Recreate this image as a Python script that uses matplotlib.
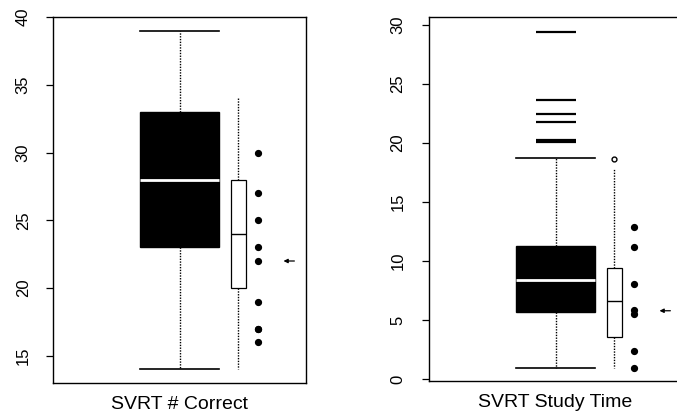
import matplotlib
matplotlib.use("Agg")
import matplotlib.pyplot as plt

plt.rcParams['font.family'] = ['Liberation Sans', 'DejaVu Sans']

# ---- data ----
titles = ["SVRT # Correct", "SVRT Study Time"]

# left panel: population box (black) and sample box (white)
correct_big = dict(q1=23, med=28, q3=33, whislo=14, whishi=39, fliers=[])
correct_small = dict(q1=20, med=24, q3=28, whislo=14, whishi=34, fliers=[])
correct_points = [30, 27, 25, 23, 22, 19, 17, 17, 16]
correct_arrow = 22
correct_yticks = [15, 20, 25, 30, 35, 40]
correct_ylim = (13, 40)

# right panel
time_big = dict(q1=5.7, med=8.4, q3=11.3, whislo=1.0, whishi=18.7,
                fliers=[29.4, 23.6, 22.4, 21.8, 20.2, 20.1])
time_small = dict(q1=3.6, med=6.6, q3=9.4, whislo=1.0, whishi=17.8,
                  fliers=[18.6])
time_points = [12.9, 11.2, 8.1, 5.9, 5.5, 2.4, 1.0]
time_arrow = 5.8
time_yticks = [0, 5, 10, 15, 20, 25, 30]
time_ylim = (-0.14, 30.64)

W, H = 677, 419
fig = plt.figure(figsize=(W / 100, H / 100), dpi=100)

def px_axes(x0, y0, x1, y1):
    return fig.add_axes([x0 / W, 1 - y1 / H, (x1 - x0) / W, (y1 - y0) / H])

ax1 = px_axes(53, 17, 306, 383)
ax2 = px_axes(429, 17, 682, 381)

panels = [
    (ax1, correct_big, correct_small, correct_points, correct_arrow,
     correct_yticks, correct_ylim, titles[0], 11),
    (ax2, time_big, time_small, time_points, time_arrow,
     time_yticks, time_ylim, titles[1], 12),
]

for ax, big, small, pts, arr, yt, yl, title, pad in panels:
    ax.set_xlim(0, 1)
    ax.set_ylim(*yl)
    # big black box
    ax.bxp([big], positions=[0.5], widths=[0.31], patch_artist=True,
           showcaps=True, capwidths=[0.31], showfliers=True,
           boxprops=dict(facecolor='black', edgecolor='black', linewidth=1),
           medianprops=dict(color='white', linewidth=2),
           whiskerprops=dict(color='black', linestyle=(0, (1, 1)), linewidth=1),
           capprops=dict(color='black', linewidth=1.2),
           flierprops=dict(marker='_', markersize=29, markeredgewidth=1.6,
                           markeredgecolor='black'))
    # small white box
    ax.bxp([small], positions=[0.733], widths=[0.06], patch_artist=True,
           showcaps=False, showfliers=True,
           boxprops=dict(facecolor='white', edgecolor='black', linewidth=0.9),
           medianprops=dict(color='black', linewidth=1),
           whiskerprops=dict(color='black', linestyle=(0, (1, 1)), linewidth=1),
           flierprops=dict(marker='o', markersize=3.5, markerfacecolor='white',
                           markeredgecolor='black', markeredgewidth=1))
    # individual points
    ax.plot([0.81] * len(pts), pts, 'o', color='black', markersize=4.2)
    # arrow
    ax.annotate('', xy=(0.9, arr), xytext=(0.965, arr),
                arrowprops=dict(arrowstyle='-|>', color='black', lw=0.9,
                                mutation_scale=6))
    ax.set_xticks([])
    ax.set_yticks(yt)
    ax.set_yticklabels([str(t) for t in yt], rotation=90, va='center',
                       fontsize=12)
    ax.tick_params(axis='y', direction='out', length=5, width=0.9, pad=pad)
    for s in ax.spines.values():
        s.set_linewidth(1)
    ax.set_xlabel(title, fontsize=14, labelpad=9)

fig.savefig("out.png", dpi=100)
